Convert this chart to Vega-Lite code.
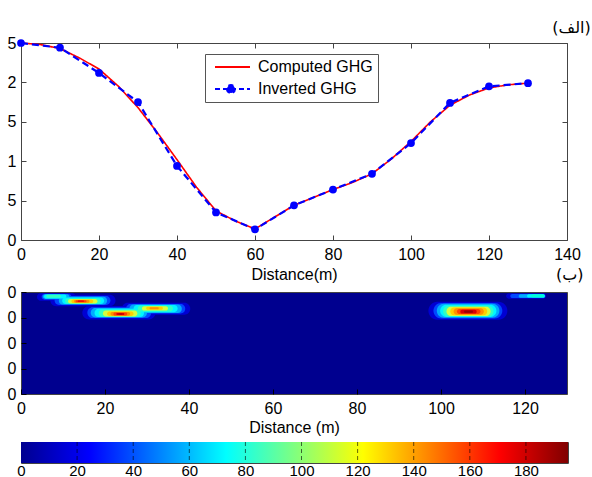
{
  "$schema": "https://vega.github.io/schema/vega-lite/v6.json",
  "padding": {"left": 6, "top": 19, "right": 0, "bottom": 0},
  "background": "white",
  "config": {
    "font": "Liberation Sans",
    "view": {"stroke": "#444", "strokeWidth": 1},
    "axis": {"labelFont": "Liberation Sans", "labelFontSize": 16, "labelColor": "#000", "titleFont": "Liberation Sans", "titleFontSize": 16, "titleFontWeight": "normal", "titleColor": "#000", "grid": false, "domain": false, "tickColor": "#444", "labelFlush": false}
  },
  "datasets": {
    "ghg": [
      {"d": 0, "g": 2.5, "s": "Computed GHG"},
      {"d": 5, "g": 2.48, "s": "Computed GHG"},
      {"d": 10, "g": 2.43, "s": "Computed GHG"},
      {"d": 15, "g": 2.31, "s": "Computed GHG"},
      {"d": 20, "g": 2.17, "s": "Computed GHG"},
      {"d": 25, "g": 1.95, "s": "Computed GHG"},
      {"d": 30, "g": 1.68, "s": "Computed GHG"},
      {"d": 35, "g": 1.36, "s": "Computed GHG"},
      {"d": 40, "g": 1.02, "s": "Computed GHG"},
      {"d": 45, "g": 0.67, "s": "Computed GHG"},
      {"d": 50, "g": 0.37, "s": "Computed GHG"},
      {"d": 55, "g": 0.24, "s": "Computed GHG"},
      {"d": 60, "g": 0.14, "s": "Computed GHG"},
      {"d": 65, "g": 0.29, "s": "Computed GHG"},
      {"d": 70, "g": 0.44, "s": "Computed GHG"},
      {"d": 75, "g": 0.54, "s": "Computed GHG"},
      {"d": 80, "g": 0.64, "s": "Computed GHG"},
      {"d": 85, "g": 0.73, "s": "Computed GHG"},
      {"d": 90, "g": 0.84, "s": "Computed GHG"},
      {"d": 95, "g": 1.03, "s": "Computed GHG"},
      {"d": 100, "g": 1.25, "s": "Computed GHG"},
      {"d": 105, "g": 1.5, "s": "Computed GHG"},
      {"d": 110, "g": 1.71, "s": "Computed GHG"},
      {"d": 115, "g": 1.84, "s": "Computed GHG"},
      {"d": 120, "g": 1.93, "s": "Computed GHG"},
      {"d": 125, "g": 1.97, "s": "Computed GHG"},
      {"d": 130, "g": 1.99, "s": "Computed GHG"},
      {"d": 0, "g": 2.5, "s": "Inverted GHG"},
      {"d": 10, "g": 2.44, "s": "Inverted GHG"},
      {"d": 20, "g": 2.12, "s": "Inverted GHG"},
      {"d": 30, "g": 1.75, "s": "Inverted GHG"},
      {"d": 40, "g": 0.94, "s": "Inverted GHG"},
      {"d": 50, "g": 0.35, "s": "Inverted GHG"},
      {"d": 60, "g": 0.135, "s": "Inverted GHG"},
      {"d": 70, "g": 0.44, "s": "Inverted GHG"},
      {"d": 80, "g": 0.64, "s": "Inverted GHG"},
      {"d": 90, "g": 0.84, "s": "Inverted GHG"},
      {"d": 100, "g": 1.23, "s": "Inverted GHG"},
      {"d": 110, "g": 1.74, "s": "Inverted GHG"},
      {"d": 120, "g": 1.95, "s": "Inverted GHG"},
      {"d": 130, "g": 1.99, "s": "Inverted GHG"}
    ],
    "heat": [
      {"x1": 7, "x2": 22.5, "d1": 1.1, "d2": 5.6, "v": 15},
      {"x1": 3.8, "x2": 13, "d1": 0.5, "d2": 3.4, "v": 15},
      {"x1": 14.6, "x2": 32, "d1": 5.5, "d2": 10.8, "v": 15},
      {"x1": 24, "x2": 40.3, "d1": 4.2, "d2": 8.9, "v": 15},
      {"x1": 97, "x2": 115.8, "d1": 3.8, "d2": 10.9, "v": 15},
      {"x1": 115.5, "x2": 125, "d1": 0.6, "d2": 2.6, "v": 15},
      {"x1": 8, "x2": 21.3, "d1": 1.6, "d2": 5.1, "v": 30},
      {"x1": 4.9, "x2": 12, "d1": 0.8, "d2": 3.0, "v": 30},
      {"x1": 15.8, "x2": 31, "d1": 6.0, "d2": 10.2, "v": 30},
      {"x1": 25, "x2": 39.1, "d1": 4.7, "d2": 8.4, "v": 30},
      {"x1": 98.2, "x2": 114.6, "d1": 4.3, "d2": 10.4, "v": 30},
      {"x1": 116.5, "x2": 124.8, "d1": 0.8, "d2": 2.4, "v": 30},
      {"x1": 9, "x2": 20.5, "d1": 1.9, "d2": 4.9, "v": 50},
      {"x1": 5.2, "x2": 11.5, "d1": 0.9, "d2": 2.7, "v": 50},
      {"x1": 16.6, "x2": 30, "d1": 6.3, "d2": 10.0, "v": 50},
      {"x1": 25.8, "x2": 38.3, "d1": 4.9, "d2": 8.2, "v": 50},
      {"x1": 99.0, "x2": 113.9, "d1": 4.6, "d2": 10.1, "v": 50},
      {"x1": 118.5, "x2": 124.8, "d1": 0.85, "d2": 2.3, "v": 50},
      {"x1": 9.8, "x2": 19.8, "d1": 2.2, "d2": 4.7, "v": 70},
      {"x1": 5.5, "x2": 10.8, "d1": 1.0, "d2": 2.5, "v": 70},
      {"x1": 17.5, "x2": 29.3, "d1": 6.6, "d2": 9.8, "v": 70},
      {"x1": 26.8, "x2": 37.3, "d1": 5.1, "d2": 7.9, "v": 70},
      {"x1": 99.8, "x2": 113.2, "d1": 5.0, "d2": 9.8, "v": 70},
      {"x1": 120.5, "x2": 124.7, "d1": 0.9, "d2": 2.2, "v": 70},
      {"x1": 121.5, "x2": 124.6, "d1": 1.0, "d2": 2.1, "v": 85},
      {"x1": 10.5, "x2": 19.0, "d1": 2.5, "d2": 4.6, "v": 90},
      {"x1": 6, "x2": 9.5, "d1": 1.1, "d2": 2.3, "v": 90},
      {"x1": 18.5, "x2": 28.5, "d1": 7.0, "d2": 9.7, "v": 90},
      {"x1": 27.8, "x2": 36.2, "d1": 5.4, "d2": 7.6, "v": 90},
      {"x1": 100.5, "x2": 112.5, "d1": 5.4, "d2": 9.6, "v": 90},
      {"x1": 11.2, "x2": 18.2, "d1": 2.7, "d2": 4.5, "v": 115},
      {"x1": 19.5, "x2": 27.7, "d1": 7.3, "d2": 9.6, "v": 115},
      {"x1": 28.8, "x2": 35.0, "d1": 5.6, "d2": 7.3, "v": 115},
      {"x1": 101.3, "x2": 111.8, "d1": 5.8, "d2": 9.4, "v": 115},
      {"x1": 12.0, "x2": 17.2, "d1": 2.9, "d2": 4.3, "v": 135},
      {"x1": 20.5, "x2": 26.8, "d1": 7.6, "d2": 9.4, "v": 135},
      {"x1": 29.8, "x2": 33.8, "d1": 5.8, "d2": 7.0, "v": 135},
      {"x1": 102.2, "x2": 111.0, "d1": 6.1, "d2": 9.1, "v": 135},
      {"x1": 12.6, "x2": 16.3, "d1": 3.1, "d2": 4.2, "v": 150},
      {"x1": 21.3, "x2": 26.0, "d1": 7.8, "d2": 9.3, "v": 150},
      {"x1": 30.6, "x2": 32.8, "d1": 6.0, "d2": 6.8, "v": 150},
      {"x1": 103.0, "x2": 110.2, "d1": 6.4, "d2": 8.9, "v": 150},
      {"x1": 13.0, "x2": 15.6, "d1": 3.2, "d2": 4.0, "v": 165},
      {"x1": 22.0, "x2": 25.3, "d1": 8.0, "d2": 9.2, "v": 165},
      {"x1": 103.8, "x2": 109.4, "d1": 6.7, "d2": 8.6, "v": 165},
      {"x1": 13.5, "x2": 15.0, "d1": 3.35, "d2": 3.85, "v": 175},
      {"x1": 22.7, "x2": 24.6, "d1": 8.2, "d2": 9.0, "v": 178},
      {"x1": 104.6, "x2": 108.5, "d1": 7.0, "d2": 8.4, "v": 178},
      {"x1": 23.2, "x2": 24.1, "d1": 8.4, "d2": 8.8, "v": 185},
      {"x1": 105.5, "x2": 107.6, "d1": 7.3, "d2": 8.1, "v": 190}
    ],
    "cbar": [{"a": 0, "b": 195}],
    "cticks": [{"t": 20}, {"t": 40}, {"t": 60}, {"t": 80}, {"t": 100}, {"t": 120}, {"t": 140}, {"t": 160}, {"t": 180}]
  },
  "spacing": 52,
  "bounds": "flush",
  "vconcat": [
    {
      "width": 546,
      "height": 197,
      "title": {"text": "(الف)", "anchor": "end", "align": "left", "font": "DejaVu Sans", "fontSize": 16, "fontWeight": "normal", "dx": -28, "offset": -1, "color": "#000"},
      "data": {"name": "ghg"},
      "layer": [
        {
          "mark": {"type": "line"},
          "encoding": {
            "x": {"field": "d", "type": "quantitative", "scale": {"domain": [0, 140], "nice": false},
                  "axis": {"values": [0, 20, 40, 60, 80, 100, 120, 140], "tickSize": -5, "labelPadding": 11, "title": "Distance(m)", "titlePadding": 4}},
            "y": {"field": "g", "type": "quantitative", "scale": {"domain": [0, 2.5], "nice": false},
                  "axis": {"values": [0, 0.5, 1, 1.5, 2, 2.5], "tickSize": -5, "labelPadding": 10, "labelExpr": "slice(toString(datum.value), -1)", "title": null}},
            "color": {"field": "s", "type": "nominal",
                      "scale": {"domain": ["Computed GHG", "Inverted GHG"], "range": ["#FF0000", "#0000FF"]},
                      "legend": {
                        "orient": "none", "legendX": 184, "legendY": 11, "title": null, "direction": "vertical",
                        "fillColor": "#ffffff", "strokeColor": "#555", "padding": 5,
                        "labelFont": "Liberation Sans", "labelFontSize": 16, "labelColor": "#000", "labelOffset": 32,
                        "symbolSize": 100, "symbolStrokeWidth": 2, "rowPadding": 6,
                        "encode": {"symbols": {"update": {
                          "shape": {"signal": "datum.value === 'Inverted GHG' ? 'M-0.6,0L6.4,0M1.8,0A0.8,0.8 0 1,0 3.4,0A0.8,0.8 0 1,0 1.8,0Z' : 'M-0.6,0L6.4,0'"},
                          "fill": {"signal": "datum.value === 'Inverted GHG' ? '#0000FF' : 'transparent'"},
                          "strokeDash": {"signal": "datum.value === 'Inverted GHG' ? [5, 3] : [1, 0]"}
                        }}}
                      }},
            "strokeDash": {"field": "s", "type": "nominal", "scale": {"domain": ["Computed GHG", "Inverted GHG"], "range": [[1, 0], [7, 4]]}, "legend": null},
            "strokeWidth": {"field": "s", "type": "nominal", "scale": {"domain": ["Computed GHG", "Inverted GHG"], "range": [1.6, 2.2]}, "legend": null}
          }
        },
        {
          "transform": [{"filter": "datum.s === 'Inverted GHG'"}],
          "mark": {"type": "point", "filled": true, "size": 60, "color": "#0000FF", "opacity": 1},
          "encoding": {
            "x": {"field": "d", "type": "quantitative",
                  "axis": {"orient": "top", "values": [0, 20, 40, 60, 80, 100, 120, 140], "labels": false, "tickSize": -5, "title": null}},
            "y": {"field": "g", "type": "quantitative",
                  "axis": {"orient": "right", "values": [0, 0.5, 1, 1.5, 2, 2.5], "labels": false, "tickSize": -5, "title": null}}
          }
        }
      ],
      "resolve": {"axis": {"x": "independent", "y": "independent"}}
    },
    {
      "spacing": 48,
      "bounds": "flush",
      "vconcat": [
        {
          "width": 546,
          "height": 102,
          "title": {"text": "(ب)", "anchor": "end", "align": "left", "font": "DejaVu Sans", "fontSize": 16, "fontWeight": "normal", "dx": -11, "offset": 1, "color": "#000"},
          "view": {"fill": "#00008F", "stroke": "#444"},
          "data": {"name": "heat"},
          "mark": {"type": "rect", "cornerRadius": 100},
          "encoding": {
            "x": {"field": "x1", "type": "quantitative", "scale": {"domain": [0, 130], "nice": false},
                  "axis": {"values": [0, 20, 40, 60, 80, 100, 120], "tickSize": -5, "tickColor": "#000", "labelPadding": 11, "title": "Distance (m)", "titlePadding": 3}},
            "x2": {"field": "x2"},
            "y": {"field": "d1", "type": "quantitative", "scale": {"domain": [0, 40], "reverse": true, "nice": false},
                  "axis": {"values": [0, 10, 20, 30, 40], "tickSize": -5, "tickColor": "#000", "labelPadding": 10, "labelExpr": "slice(toString(datum.value), -1)", "title": null}},
            "y2": {"field": "d2"},
            "color": {"field": "v", "type": "quantitative",
                      "scale": {"domain": [0, 24.375, 73.125, 121.875, 170.625, 195], "range": ["#00008F", "#0000FF", "#00FFFF", "#FFFF00", "#FF0000", "#800000"]},
                      "legend": null}
          }
        },
        {
          "width": 547,
          "height": 21,
          "layer": [
            {
              "data": {"name": "cbar"},
              "mark": {"type": "rect", "color": {"gradient": "linear", "x1": 0, "x2": 1, "y1": 0, "y2": 0,
                "stops": [
                  {"offset": 0, "color": "#00008F"},
                  {"offset": 0.125, "color": "#0000FF"},
                  {"offset": 0.375, "color": "#00FFFF"},
                  {"offset": 0.625, "color": "#FFFF00"},
                  {"offset": 0.875, "color": "#FF0000"},
                  {"offset": 1, "color": "#800000"}
                ]}},
              "encoding": {
                "x": {"field": "a", "type": "quantitative", "scale": {"domain": [0, 195], "nice": false},
                      "axis": {"values": [0, 20, 40, 60, 80, 100, 120, 140, 160, 180], "tickSize": 0, "labelPadding": 0, "labelFontSize": 15, "title": null}},
                "x2": {"field": "b"}
              }
            },
            {
              "data": {"name": "cticks"},
              "mark": {"type": "rule", "strokeDash": [4, 3], "color": "#000", "strokeWidth": 1, "opacity": 0.6},
              "encoding": {"x": {"field": "t", "type": "quantitative"}}
            }
          ]
        }
      ]
    }
  ]
}
